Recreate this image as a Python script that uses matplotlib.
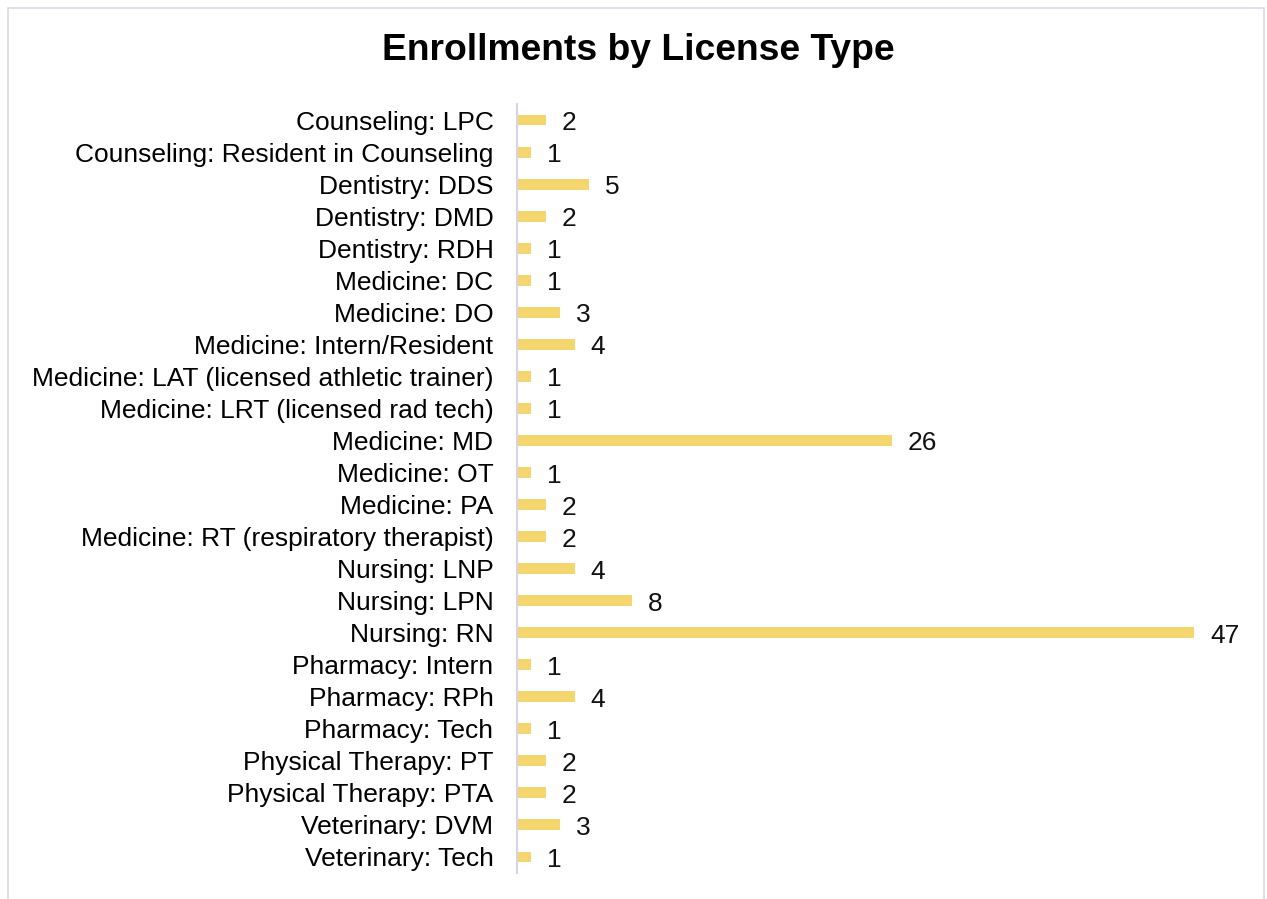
import matplotlib

matplotlib.use("Agg")

import matplotlib.pyplot as plt
from matplotlib.patches import Rectangle

license_types = [
    "Counseling: LPC",
    "Counseling: Resident in Counseling",
    "Dentistry: DDS",
    "Dentistry: DMD",
    "Dentistry: RDH",
    "Medicine: DC",
    "Medicine: DO",
    "Medicine: Intern/Resident",
    "Medicine: LAT (licensed athletic trainer)",
    "Medicine: LRT (licensed rad tech)",
    "Medicine: MD",
    "Medicine: OT",
    "Medicine: PA",
    "Medicine: RT (respiratory therapist)",
    "Nursing: LNP",
    "Nursing: LPN",
    "Nursing: RN",
    "Pharmacy: Intern",
    "Pharmacy: RPh",
    "Pharmacy: Tech",
    "Physical Therapy: PT",
    "Physical Therapy: PTA",
    "Veterinary: DVM",
    "Veterinary: Tech",
]
enrollments = [2, 1, 5, 2, 1, 1, 3, 4, 1, 1, 26, 1, 2, 2, 4, 8, 47, 1, 4, 1, 2, 2, 3, 1]

W, H = 1267, 899
plt.rcParams["font.family"] = ["Liberation Sans", "DejaVu Sans"]

fig = plt.figure(figsize=(W / 100, H / 100), dpi=100)
fig.patch.set_facecolor("white")

# light frame around the chart (bottom edge runs off the image)
fig.patches.append(
    Rectangle((8 / W, -0.05), (1264 - 8) / W, 1.05 - 8 / H,
              transform=fig.transFigure, fill=False,
              edgecolor="#DCDCEC", linewidth=1.3)
)

ax = fig.add_axes([517 / W, 1 - 873 / H, (1250 - 517) / W, (873 - 104) / H])
pos = list(range(len(license_types)))
ax.barh(pos, enrollments, height=0.34, color="#F5D66E")

ax.set_ylim(len(license_types) - 0.5, -0.5)
ax.set_xlim(0, max(enrollments) * 733 / 677)
ax.set_yticks(pos)
ax.set_yticklabels(license_types, fontsize=19)
ax.tick_params(axis="y", length=0, pad=17)
ax.set_xticks([])

for side in ["top", "right", "bottom"]:
    ax.spines[side].set_visible(False)
ax.spines["left"].set_color("#D4D4EA")
ax.spines["left"].set_linewidth(1.5)

for y, v in zip(pos, enrollments):
    ax.annotate(str(v), xy=(v, y), xytext=(11.5, -2.2), textcoords="offset points",
                ha="left", va="center", fontsize=19, color="#111111",
                annotation_clip=False)

fig.text(638 / W, 1 - 51 / H, "Enrollments by License Type", ha="center",
         va="center", fontsize=26.8, fontweight="bold")

fig.savefig("out.png", dpi=100, facecolor="white")
